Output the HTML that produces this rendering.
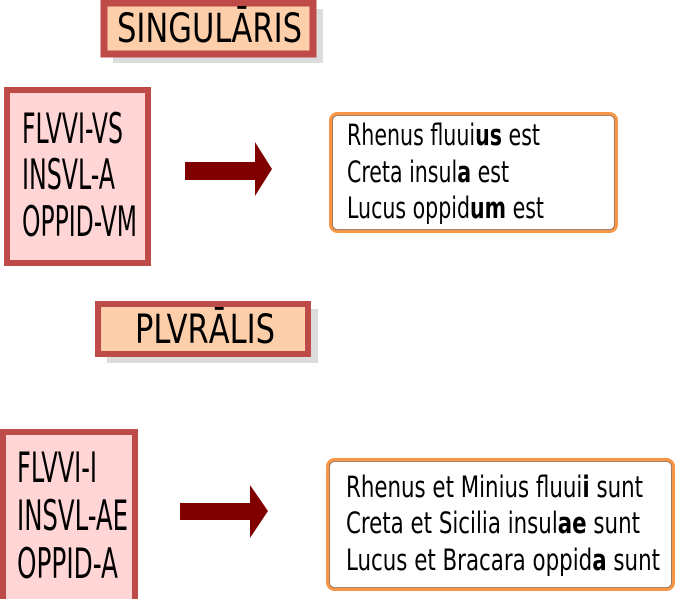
<!DOCTYPE html>
<html><head><meta charset="utf-8"><style>
html,body{margin:0;padding:0;background:#fff;width:677px;height:599px;overflow:hidden}
svg text{font-family:"DejaVu Sans Condensed","DejaVu Sans","Liberation Sans",sans-serif;font-stretch:condensed;fill:#000}
</style></head><body>
<svg width="677" height="599" viewBox="0 0 677 599" xmlns="http://www.w3.org/2000/svg">
<!-- SINGULARIS -->
<rect x="113" y="9" width="210" height="54" fill="#dcdcdc"/>
<rect x="104" y="3" width="209" height="51" fill="#fdceaa" stroke="#be4b48" stroke-width="7"/>
<text x="117" y="42" font-size="40" textLength="185" lengthAdjust="spacingAndGlyphs">SINGULĀRIS</text>
<!-- box1 -->
<rect x="7" y="90" width="141" height="173" fill="#ffd5d5" stroke="#be4b48" stroke-width="6"/>
<text x="22" y="143" font-size="42" textLength="101" lengthAdjust="spacingAndGlyphs">FLVVI-VS</text>
<text x="22" y="189" font-size="42" textLength="93" lengthAdjust="spacingAndGlyphs">INSVL-A</text>
<text x="22" y="236" font-size="42" textLength="115" lengthAdjust="spacingAndGlyphs">OPPID-VM</text>
<!-- arrow1 -->
<polygon points="185,162 255,162 255,142 272,169 255,196 255,180 185,180" fill="#800000"/>
<!-- right box1 -->
<rect x="330.5" y="113.5" width="286" height="118" rx="7" fill="#fff" stroke="#f79646" stroke-width="3"/>
<rect x="332.5" y="115.5" width="282" height="114" rx="5" fill="none" stroke="#8a5a3a" stroke-width="0.8"/>
<text x="347" y="145" font-size="29" textLength="193" lengthAdjust="spacingAndGlyphs">Rhenus fluui<tspan font-weight="bold">us</tspan> est</text>
<text x="347" y="182" font-size="29" textLength="162" lengthAdjust="spacingAndGlyphs">Creta insul<tspan font-weight="bold">a</tspan> est</text>
<text x="347" y="218" font-size="29" textLength="197" lengthAdjust="spacingAndGlyphs">Lucus oppid<tspan font-weight="bold">um</tspan> est</text>
<!-- PLVRALIS -->
<rect x="107" y="309" width="211" height="54" fill="#dcdcdc"/>
<rect x="98" y="304" width="210" height="50" fill="#fdceaa" stroke="#be4b48" stroke-width="6"/>
<text x="135" y="343" font-size="40" textLength="140" lengthAdjust="spacingAndGlyphs">PLVRĀLIS</text>
<!-- box2 -->
<rect x="3" y="432" width="132" height="170" fill="#ffd5d5" stroke="#be4b48" stroke-width="6"/>
<text x="17" y="482" font-size="42" textLength="80" lengthAdjust="spacingAndGlyphs">FLVVI-I</text>
<text x="17" y="530" font-size="42" textLength="111" lengthAdjust="spacingAndGlyphs">INSVL-AE</text>
<text x="17" y="578" font-size="42" textLength="101" lengthAdjust="spacingAndGlyphs">OPPID-A</text>
<!-- arrow2 -->
<polygon points="180,503 250,503 250,485 268,511 250,538 250,520 180,520" fill="#800000"/>
<!-- right box2 -->
<rect x="327.5" y="459.5" width="346" height="130" rx="7" fill="#fff" stroke="#f79646" stroke-width="3"/>
<rect x="329.5" y="461.5" width="342" height="126" rx="5" fill="none" stroke="#8a5a3a" stroke-width="0.8"/>
<text x="346" y="497" font-size="29" textLength="297" lengthAdjust="spacingAndGlyphs">Rhenus et Minius fluui<tspan font-weight="bold">i</tspan> sunt</text>
<text x="346" y="533" font-size="29" textLength="294" lengthAdjust="spacingAndGlyphs">Creta et Sicilia insul<tspan font-weight="bold">ae</tspan> sunt</text>
<text x="346" y="570" font-size="29" textLength="314" lengthAdjust="spacingAndGlyphs">Lucus et Bracara oppid<tspan font-weight="bold">a</tspan> sunt</text>
</svg>
</body></html>
